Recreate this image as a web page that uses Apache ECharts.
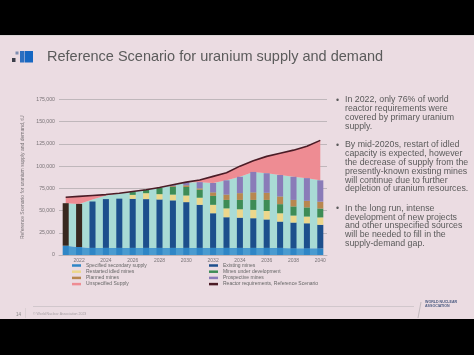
<!DOCTYPE html>
<html>
<head>
<meta charset="utf-8">
<script src="https://cdn.jsdelivr.net/npm/echarts@6/dist/echarts.min.js"></script>
<style>
  html, body { margin: 0; padding: 0; background: #000; }
  #chart { width: 474px; height: 355px; background: #ebdce2; }
</style>
</head>
<body>
<div id="chart"></div>
<script>
// ---- data (tU) ----
const years = ['2021','2022','2023','2024','2025','2026','2027','2028','2029','2030',
               '2031','2032','2033','2034','2035','2036','2037','2038','2039','2040'];
const requirements    = [65000, 66000, 67000, 68000, 69500, 71500, 73500, 76000, 79000, 82000,
                         84500, 88500, 92500, 100000, 106000, 111000, 114500, 118000, 122500, 129000];
const coveredSupply   = [58300, 57500, 62500, 67000, 69500, 71500, 73500, 76000, 79000, 82000,
                         82000, 81000, 84000, 88000, 93500, 92000, 90000, 88000, 86500, 84000];
const secondarySupply = [10500, 9000, 8000, 8000, 8000, 8000, 8000, 8000, 8000, 8000,
                         8000, 8000, 8000, 8000, 8000, 8000, 8000, 7500, 7500, 7500];
const existingMines   = [47800, 48500, 52200, 54900, 55400, 55200, 54900, 54500, 53500, 51500,
                         48500, 39000, 34500, 34000, 33400, 32000, 29600, 29000, 28200, 26500];
const restartedMines  = [0, 0, 0, 0, 0, 4500, 6700, 6000, 6500, 7500,
                         8000, 9500, 10000, 9500, 9400, 9500, 9400, 7900, 7600, 8300];
const underDevelopment= [0, 0, 0, 0, 0, 3100, 3800, 6900, 8500, 9500,
                         8900, 10000, 9500, 10500, 11200, 12500, 10200, 10200, 10200, 10000];
const plannedMines    = [0, 0, 0, 0, 0, 0, 0, 0, 1000, 2000,
                         1600, 4000, 6000, 7600, 8500, 8000, 8700, 7400, 7500, 7700];
const prospectiveMines= [0, 0, 0, 0, 0, 0, 0, 0, 1000, 3500,
                         7000, 10500, 16000, 18400, 23000, 22000, 24100, 26000, 25500, 24000];
const yTicks = { min: 0, max: 175000, step: 25000 };

const bullets = [
  ['In 2022, only 76% of world', 'reactor requirements were', 'covered by primary uranium', 'supply.'],
  ['By mid-2020s, restart of idled', 'capacity is expected, however', 'the decrease of supply from the',
   'presently-known existing mines', 'will continue due to further', 'depletion of uranium resources.'],
  ['In the long run, intense', 'development of new projects', 'and other unspecified sources',
   'will be needed to fill in the', 'supply-demand gap.']
];

// ---- derived stacks ----
const tealPart = coveredSupply.map((v, i) => v - secondarySupply[i]);
const gapPart = requirements.map((v, i) => Math.max(0, v - coveredSupply[i]));

const C = {
  sec: '#2f86c6', existing: '#1d4f8c', hist: '#38281f', restarted: '#ecd78c',
  dev: '#3e8c56', planned: '#b8874f', prospective: '#8a7bb8', gap: '#ee8c93',
  teal: '#a9dbd5', line: '#4b1c26'
};

const chart = echarts.init(document.getElementById('chart'));
const font = 'Liberation Sans, Arial, sans-serif';

const bulletGraphics = [];
const bulletTops = [95.6, 140.6, 204];
bullets.forEach((lines, b) => {
  bulletGraphics.push({ type: 'text', x: 336, y: bulletTops[b], z: 10,
    style: { text: '•', font: '8.8px ' + font, fill: '#5a5a5a', verticalAlign: 'top' } });
  bulletGraphics.push({ type: 'text', x: 345, y: bulletTops[b], z: 10,
    style: { text: lines.join('\n'), font: '8.8px ' + font, lineHeight: 8.8, fill: '#5a5a5a', verticalAlign: 'top' } });
});

const barBase = { type: 'bar', stack: 'bars', barWidth: '45%', z: 3 };

chart.setOption({
  animation: false,
  textStyle: { fontFamily: font },
  grid: { left: 59, right: 147, top: 99.5, bottom: 100, containLabel: false },
  xAxis: {
    type: 'category', data: years,
    axisTick: { show: false },
    axisLine: { show: true, lineStyle: { color: '#bdb4b8', width: 1 } },
    axisLabel: { interval: (i) => i % 2 === 1, fontSize: 5, color: '#7a7478', margin: 3 }
  },
  yAxis: {
    type: 'value', min: yTicks.min, max: yTicks.max, interval: yTicks.step,
    name: 'Reference Scenario for uranium supply and demand, tU',
    nameLocation: 'middle', nameGap: 24, nameRotate: 90,
    nameTextStyle: { fontSize: 5, color: '#7a7478' },
    axisLabel: { fontSize: 5.2, color: '#7a7478', margin: 4, formatter: v => v.toLocaleString('en-US') },
    splitLine: { lineStyle: { color: '#bfb7bb', width: 1 } },
    axisLine: { show: false }, axisTick: { show: false }
  },
  legend: [
    { orient: 'vertical', left: 72, top: 263, itemGap: 1.2, itemWidth: 9, itemHeight: 2.5, padding: 0,
      icon: 'rect', textStyle: { fontSize: 5, color: '#666' },
      data: ['Specified secondary supply', 'Restarted idled mines', 'Planned mines', 'Unspecified Supply'] },
    { orient: 'vertical', left: 209, top: 263, itemGap: 1.2, itemWidth: 9, itemHeight: 2.5, padding: 0,
      icon: 'rect', textStyle: { fontSize: 5, color: '#666' },
      data: [{ name: 'Existing mines', itemStyle: { color: C.existing } }, 'Mines under development',
             'Prospective mines', 'Reactor requirements, Reference Scenario'] }
  ],
  series: [
    { name: 'secArea', type: 'line', stack: 'area', data: secondarySupply, symbol: 'none',
      lineStyle: { width: 0 }, areaStyle: { color: '#4a9bd0', opacity: 1 }, itemStyle: { color: '#4a9bd0' }, z: 1 },
    { name: 'Covered supply', type: 'line', stack: 'area', data: tealPart, symbol: 'none',
      lineStyle: { width: 0 }, areaStyle: { color: C.teal, opacity: 1 }, itemStyle: { color: C.teal }, z: 1 },
    { name: 'Unspecified Supply', type: 'line', stack: 'area', data: gapPart, symbol: 'none',
      lineStyle: { width: 0 }, areaStyle: { color: C.gap, opacity: 1 }, itemStyle: { color: C.gap }, z: 1 },
    Object.assign({ name: 'Specified secondary supply', data: secondarySupply, itemStyle: { color: C.sec } }, barBase),
    Object.assign({ name: 'Existing mines', data: existingMines,
      itemStyle: { color: (p) => p.dataIndex < 2 ? C.hist : C.existing } }, barBase),
    Object.assign({ name: 'Restarted idled mines', data: restartedMines, itemStyle: { color: C.restarted } }, barBase),
    Object.assign({ name: 'Mines under development', data: underDevelopment, itemStyle: { color: C.dev } }, barBase),
    Object.assign({ name: 'Planned mines', data: plannedMines, itemStyle: { color: C.planned } }, barBase),
    Object.assign({ name: 'Prospective mines', data: prospectiveMines, itemStyle: { color: C.prospective } }, barBase),
    { name: 'Reactor requirements, Reference Scenario', type: 'line', data: requirements, symbol: 'none',
      lineStyle: { color: C.line, width: 1.6 }, itemStyle: { color: C.line }, z: 5 }
  ],
  graphic: [
    { type: 'rect', shape: { x: 0, y: 0, width: 474, height: 35 }, style: { fill: '#000' } },
    { type: 'rect', shape: { x: 0, y: 35, width: 474, height: 1 }, style: { fill: '#d8d2d4' } },
    { type: 'rect', shape: { x: 0, y: 319, width: 474, height: 36 }, style: { fill: '#000' } },
    // title icon
    { type: 'rect', shape: { x: 12, y: 58, width: 3.5, height: 4 }, style: { fill: '#3b3f4a' } },
    { type: 'rect', shape: { x: 15.5, y: 51.5, width: 3, height: 3 }, style: { fill: '#7e8fb0' } },
    { type: 'rect', shape: { x: 20, y: 51, width: 4, height: 11.5 }, style: { fill: '#2c6fc0' } },
    { type: 'rect', shape: { x: 24.5, y: 51, width: 8.5, height: 11.5 }, style: { fill: '#1667c2' } },
    { type: 'text', x: 47, y: 57, style: { text: 'Reference Scenario for uranium supply and demand',
      font: '14.5px ' + font, fill: '#5b5b5b', verticalAlign: 'middle' } },
    // footer
    { type: 'rect', shape: { x: 33, y: 306, width: 381, height: 0.8 }, style: { fill: '#c9c1c5' } },
    { type: 'line', shape: { x1: 421, y1: 302, x2: 418, y2: 318 }, style: { stroke: '#b8b0b4', lineWidth: 0.8 } },
    { type: 'rect', shape: { x: 25, y: 308, width: 0.6, height: 10 }, style: { fill: '#d0c8cc' } },
    { type: 'text', x: 16, y: 314.5, style: { text: '14', font: '4.5px ' + font, fill: '#888', verticalAlign: 'middle' } },
    { type: 'text', x: 33, y: 314.5, style: { text: '© World Nuclear Association 2023', font: '3.5px ' + font, fill: '#a8a0a4', verticalAlign: 'middle' } },
    { type: 'text', x: 425, y: 303.5, style: { text: 'WORLD NUCLEAR\nASSOCIATION', font: 'bold 3.6px ' + font, lineHeight: 4, fill: '#4a5a80', verticalAlign: 'middle' } }
  ].concat(bulletGraphics)
});
</script>
</body>
</html>
